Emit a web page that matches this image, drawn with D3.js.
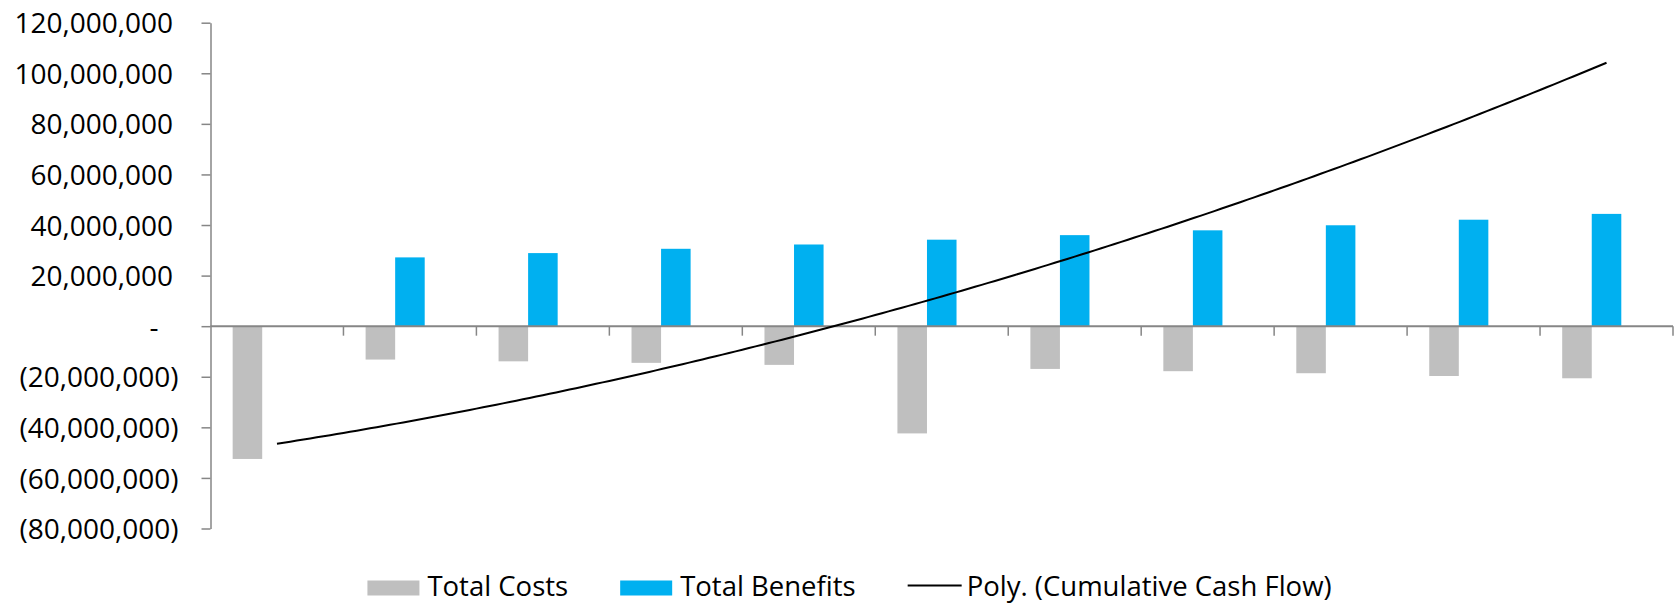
<!DOCTYPE html>
<html>
<head>
<meta charset="utf-8">
<script src="https://cdn.jsdelivr.net/npm/d3@7"></script>
<style>
  html, body { margin: 0; padding: 0; background: #ffffff; }
  svg { display: block; font-family: "Open Sans", "Noto Sans", sans-serif; }
</style>
</head>
<body>
<svg id="chart" width="1679" height="604"></svg>
<script>
// Project cash flows by year (costs negative, benefits positive)
const years = ["Year 0", "Year 1", "Year 2", "Year 3", "Year 4", "Year 5",
               "Year 6", "Year 7", "Year 8", "Year 9", "Year 10"];
const totalCosts = [-52.5e6, -13.2e6, -13.9e6, -14.5e6, -15.3e6, -42.4e6,
                    -16.9e6, -17.8e6, -18.6e6, -19.7e6, -20.6e6];
const totalBenefits = [0, 27.2e6, 28.9e6, 30.6e6, 32.3e6, 34.2e6,
                       36.0e6, 37.9e6, 39.9e6, 42.1e6, 44.4e6];
const yTickValues = [-80e6, -60e6, -40e6, -20e6, 0, 20e6, 40e6, 60e6, 80e6, 100e6, 120e6];
const seriesNames = ["Total Costs", "Total Benefits", "Cumulative Cash Flow"];
const legendLabels = ["Total Costs", "Total Benefits", "Poly. (Cumulative Cash Flow)"];

// Cumulative net cash flow, charted only through its polynomial trendline
const cumulative = [];
years.forEach((_, i) => {
  const prev = i ? cumulative[i - 1] : 0;
  cumulative.push(prev + totalCosts[i] + totalBenefits[i]);
});

// Least-squares polynomial fit (order 2) on x = 1..n
function polyFit(ys, order) {
  const m = order + 1;
  const A = Array.from({ length: m }, () => new Array(m + 1).fill(0));
  ys.forEach((yv, i) => {
    const xv = i + 1;
    for (let r = 0; r < m; r++) {
      for (let c = 0; c < m; c++) A[r][c] += Math.pow(xv, r + c);
      A[r][m] += yv * Math.pow(xv, r);
    }
  });
  for (let p = 0; p < m; p++) {
    let best = p;
    for (let r = p + 1; r < m; r++) if (Math.abs(A[r][p]) > Math.abs(A[best][p])) best = r;
    [A[p], A[best]] = [A[best], A[p]];
    for (let r = 0; r < m; r++) {
      if (r === p) continue;
      const f = A[r][p] / A[p][p];
      for (let c = p; c <= m; c++) A[r][c] -= f * A[p][c];
    }
  }
  return A.map((row, i) => row[m] / row[i]);
}
const coef = polyFit(cumulative, 2);
const trendAt = t => coef.reduce((s, k, i) => s + k * Math.pow(t, i), 0);

const svg = d3.select("#chart");
const axisColor = "#868686";
const colors = { "Total Costs": "#BFBFBF", "Total Benefits": "#00B0F0" };

// Scales
const plotLeft = 210.5, plotRight = 1673;
const x0 = d3.scaleBand().domain(years).range([plotLeft, plotRight]).padding(0);
const x1 = d3.scaleBand().domain(seriesNames).range([0, x0.bandwidth()])
  .paddingInner(0).paddingOuter(0.75);
const y = d3.scaleLinear().domain([-80e6, 120e6]).range([528.5, 22.7]);

// Bars
const barData = years.map((yr, i) => ({
  year: yr,
  values: [
    { key: "Total Costs", value: totalCosts[i] },
    { key: "Total Benefits", value: totalBenefits[i] }
  ]
}));
const groups = svg.append("g").selectAll("g").data(barData).join("g")
  .attr("transform", d => `translate(${x0(d.year)},0)`);
groups.selectAll("rect").data(d => d.values.filter(v => v.value !== 0)).join("rect")
  .attr("x", d => x1(d.key))
  .attr("width", x1.bandwidth())
  .attr("y", d => y(Math.max(0, d.value)))
  .attr("height", d => Math.abs(y(d.value) - y(0)))
  .attr("fill", d => colors[d.key]);

// Y axis with accounting-style labels
function acct(v) {
  if (v === 0) return "-";
  const s = d3.format(",.0f")(Math.abs(v));
  return v < 0 ? `(${s})` : s;
}
const yAxis = svg.append("g")
  .attr("transform", `translate(${plotLeft},0)`)
  .call(d3.axisLeft(y).tickValues(yTickValues).tickSize(9).tickSizeOuter(0).tickFormat(acct));
yAxis.select(".domain").attr("stroke", axisColor).attr("stroke-width", 1.5);
yAxis.selectAll(".tick line").attr("stroke", axisColor).attr("stroke-width", 1.5);
yAxis.selectAll(".tick text")
  .attr("fill", "#000")
  .attr("font-size", 28)
  .attr("font-family", '"Open Sans", sans-serif')
  .attr("dy", "0.36em")
  .attr("x", d => d < 0 ? -32 : d === 0 ? -52 : -37.5);

// Category axis along zero, ticks between categories
const zeroY = y(0);
svg.append("line")
  .attr("x1", plotLeft).attr("x2", plotRight)
  .attr("y1", zeroY).attr("y2", zeroY)
  .attr("stroke", axisColor).attr("stroke-width", 2);
svg.append("g").selectAll("line").data(years).join("line")
  .attr("x1", d => x0(d) + x0.bandwidth()).attr("x2", d => x0(d) + x0.bandwidth())
  .attr("y1", zeroY).attr("y2", zeroY + 9.5)
  .attr("stroke", axisColor).attr("stroke-width", 1.5);

// Polynomial trendline across category centres
const xt = d3.scaleLinear().domain([1, years.length])
  .range([x0(years[0]) + x0.bandwidth() / 2, x0(years[years.length - 1]) + x0.bandwidth() / 2]);
const samples = d3.range(1, years.length + 0.0001, 0.05);
svg.append("path")
  .datum(samples)
  .attr("fill", "none")
  .attr("stroke", "#000")
  .attr("stroke-width", 2)
  .attr("d", d3.line().x(t => xt(t)).y(t => y(trendAt(t))));

// Legend
const legend = svg.append("g");
const legendY = 588;
let cursor = 0;
legendLabels.forEach((label, i) => {
  const item = legend.append("g").attr("transform", `translate(${cursor},0)`);
  if (i < 2) {
    item.append("rect").attr("x", 0).attr("y", legendY - 7.5).attr("width", 52).attr("height", 15)
      .attr("fill", colors[seriesNames[i]]);
  } else {
    item.append("line").attr("x1", 0).attr("x2", 54).attr("y1", legendY - 2.5).attr("y2", legendY - 2.5)
      .attr("stroke", "#000").attr("stroke-width", 2);
  }
  const swatchW = i < 2 ? 52 : 54;
  const gap = i < 2 ? 8 : 5;
  const txt = item.append("text")
    .attr("x", swatchW + gap).attr("y", legendY + 8)
    .attr("font-size", 27.5)
    .attr("fill", "#000")
    .text(label);
  cursor += swatchW + gap + txt.node().getComputedTextLength() + 52;
});
const legendWidth = cursor - 52;
legend.attr("transform", `translate(${849.5 - legendWidth / 2},0)`);
</script>
</body>
</html>
